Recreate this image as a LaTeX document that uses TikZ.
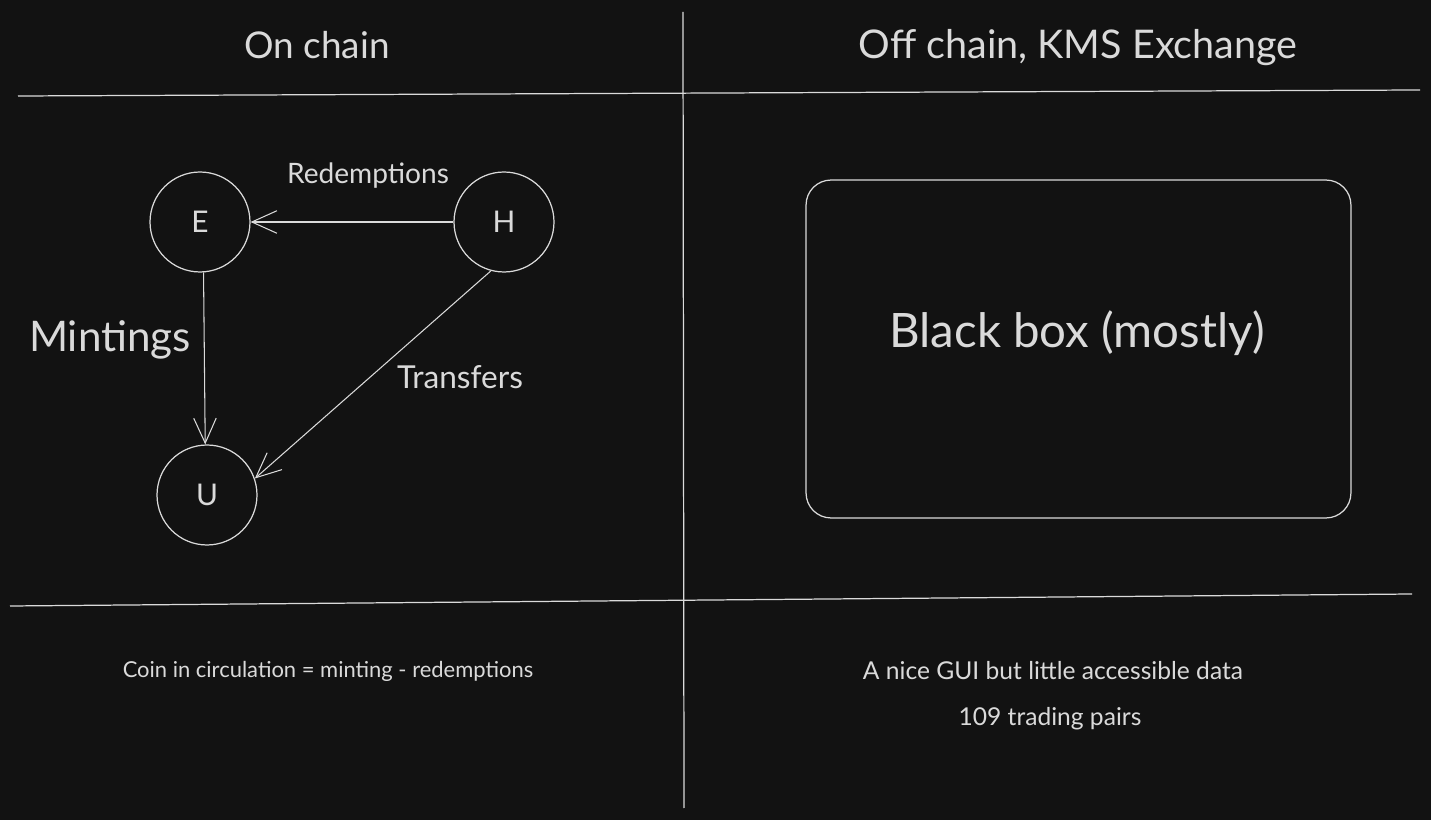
\documentclass[tikz,border=0pt]{standalone}
\usepackage{fontspec}
\setmainfont{Lato}
\usepackage{xcolor}
\usetikzlibrary{arrows.meta,positioning}
\definecolor{canvas}{HTML}{121212}
\definecolor{ink}{HTML}{DADADA}

\begin{document}
\begin{tikzpicture}[x=0.02cm, y=-0.02cm,
  every node/.style = {text=ink},
  rule/.style  = {draw=ink, line width=0.7pt},
  party/.style = {circle, draw=ink, line width=0.7pt, minimum size=2cm,
                  inner sep=0pt, font=\fontsize{17}{20}\selectfont},
  head/.style  = {font=\fontsize{21}{25}\selectfont},
  arr/.style   = {draw=ink, line width=0.6pt,
                  -{Straight Barb[length=5mm,width=4.5mm]}},
  lab/.style   = {font=\fontsize{16}{19}\selectfont},
  note/.style  = {font=\fontsize{12.5}{15}\selectfont}
]
\fill[canvas] (0,0) rectangle (1431,820);
\useasboundingbox (0,0) rectangle (1431,820);

%% ---- frame --------------------------------------------------------
\draw[rule] (683,12) -- (684,808);
\draw[rule] (18,96) -- (1420,90);
\draw[rule] (10,606) -- (1412,594);

\node[head] (onchain)  at (317,45) {On chain};
\node[head, font=\fontsize{22.5}{27}\selectfont] (offchain) at (1078,48) {Off chain, KMS Exchange};

%% ---- on chain -----------------------------------------------------
\node[party] (E) at (200,222) {E};
\node[party] (H) at (504,222) {H};
\node[party] (U) at (207,495) {U};

\draw[arr] (H.180) -- (E.0);
\draw[arr] (E.274) -- (U.92);
\draw[arr] (H.255) -- (U.19);

\node[lab] (redeem) at (368,176) {Redemptions};
\node[font=\fontsize{24}{28}\selectfont] (mint) at (110,340) {Mintings};
\node[lab, font=\fontsize{18}{21}\selectfont] (transfer) at (460,377) {Transfers};

\node[note] (supply) at (328,671) {Coin in circulation = minting - redemptions};

%% ---- off chain ----------------------------------------------------
\node[draw=ink, line width=0.7pt, rounded corners=0.5cm,
      minimum width=10.9cm, minimum height=6.76cm] (bb) at (1078.5,349) {};
\node[font=\fontsize{27}{32}\selectfont] (bblab) at (1077,333) {Black box (mostly)};

\node[note, font=\fontsize{14}{17}\selectfont] (gui)   at (1053,671) {A nice GUI but little accessible data};
\node[note, font=\fontsize{14}{17}\selectfont] (pairs) at (1050,719) {109 trading pairs};
\end{tikzpicture}
\end{document}
